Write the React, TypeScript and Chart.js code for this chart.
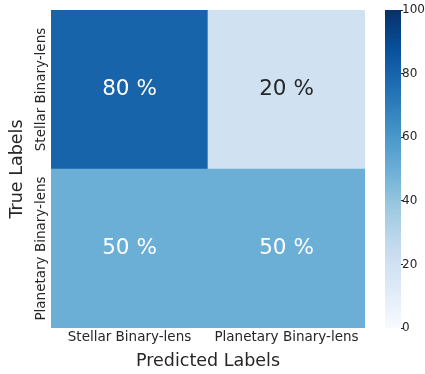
import React, { useEffect, useRef } from "react";
import { Chart, registerables } from "chart.js";

Chart.register(...registerables);

const predictedLabels = ["Stellar Binary-lens", "Planetary Binary-lens"];
const trueLabels = ["Stellar Binary-lens", "Planetary Binary-lens"];
const stellarRow = [80, 20];
const planetaryRow = [50, 50];
const colorbarTicks = [0, 20, 40, 60, 80, 100];
const colorbarRange = [0, 100];

const FONT = "'DejaVu Sans', 'Liberation Sans', sans-serif";
const TICK_SIZE = 13.5;
const TITLE_SIZE = 17.5;
const CELL_SIZE = 21.5;

const BLUES = [
  [247, 251, 255],
  [222, 235, 247],
  [198, 219, 239],
  [158, 202, 225],
  [107, 174, 214],
  [66, 146, 198],
  [33, 113, 181],
  [8, 81, 156],
  [8, 48, 107],
];

function blues(t: number): number[] {
  const c = Math.max(0, Math.min(1, t)) * (BLUES.length - 1);
  const i = Math.min(BLUES.length - 2, Math.floor(c));
  const f = c - i;
  return BLUES[i].map((v, k) => Math.round(v + (BLUES[i + 1][k] - v) * f));
}
function bluesCss(t: number) {
  const [r, g, b] = blues(t);
  return `rgb(${r},${g},${b})`;
}
function textColorFor(t: number) {
  const lin = blues(t).map((v) => {
    const s = v / 255;
    return s <= 0.03928 ? s / 12.92 : Math.pow((s + 0.055) / 1.055, 2.4);
  });
  const lum = 0.2126 * lin[0] + 0.7152 * lin[1] + 0.0722 * lin[2];
  return lum > 0.408 ? "#262626" : "#ffffff";
}

export default function App() {
  const mainRef = useRef<HTMLCanvasElement>(null);
  const cbRef = useRef<HTMLCanvasElement>(null);

  useEffect(() => {
    Chart.defaults.font.family = FONT;
    const meas = document.createElement("canvas").getContext("2d")!;
    meas.font = `${TICK_SIZE}px ${FONT}`;
    const widest = Math.max(...trueLabels.map((l) => meas.measureText(l).width));

    const rows = [
      { label: trueLabels[1], values: planetaryRow, span: [0, 1] },
      { label: trueLabels[0], values: stellarRow, span: [1, 2] },
    ];

    const cellText = {
      id: "cellText",
      afterDatasetsDraw(chart: any) {
        const ctx = chart.ctx;
        ctx.save();
        ctx.font = `${CELL_SIZE}px ${FONT}`;
        ctx.textAlign = "center";
        ctx.textBaseline = "middle";
        chart.data.datasets.forEach((ds: any, di: number) => {
          const meta = chart.getDatasetMeta(di);
          meta.data.forEach((el: any, i: number) => {
            const v = ds.pct[i];
            ctx.fillStyle = textColorFor(v / 100);
            ctx.fillText(`${v} %`, el.x, (el.y + el.base) / 2);
          });
        });
        ctx.restore();
      },
    };

    const main = new Chart(mainRef.current!, {
      type: "bar",
      data: {
        labels: predictedLabels,
        datasets: rows.map((r) => ({
          label: r.label,
          data: r.values.map(() => r.span),
          pct: r.values,
          backgroundColor: r.values.map((v) => bluesCss(v / 100)),
          borderWidth: 0,
          barPercentage: 1,
          categoryPercentage: 1,
          grouped: false,
        })) as any,
      },
      options: {
        animation: false,
        responsive: false,
        layout: { padding: { left: 0, top: 10, right: 5, bottom: 0 } },
        plugins: { legend: { display: false }, tooltip: { enabled: false } },
        scales: {
          x: {
            grid: { display: false, drawTicks: false },
            border: { display: false },
            ticks: { color: "#262626", font: { size: TICK_SIZE }, padding: 1 },
            title: {
              display: true,
              text: "Predicted Labels",
              color: "#262626",
              font: { size: TITLE_SIZE },
              padding: { top: 0, bottom: 2.5 },
            },
            afterFit: (s: any) => {
              s.height = 46;
            },
          },
          y: {
            min: 0,
            max: 2,
            grid: { display: false, drawTicks: false },
            border: { display: false },
            afterBuildTicks: (s: any) => {
              s.ticks = [{ value: 0.5 }, { value: 1.5 }];
            },
            ticks: {
              color: "#262626",
              font: { size: TICK_SIZE },
              minRotation: 90,
              maxRotation: 90,
              crossAlign: "center",
              padding: 10 - widest / 2,
              callback: (v: any) => (v > 1 ? trueLabels[0] : trueLabels[1]),
            },
            title: {
              display: true,
              text: "True Labels",
              color: "#262626",
              font: { size: TITLE_SIZE },
              padding: { top: 7, bottom: 0 },
            },
            afterFit: (s: any) => {
              s.width = 51;
            },
          },
        },
      },
      plugins: [cellText],
    });

    const cb = new Chart(cbRef.current!, {
      type: "bar",
      data: {
        labels: [""],
        datasets: [
          {
            data: [colorbarRange],
            backgroundColor: (c: any) => {
              const area = c.chart.chartArea;
              if (!area) return "#6baed6";
              const g = c.chart.ctx.createLinearGradient(0, area.bottom, 0, area.top);
              BLUES.forEach((_, i) => g.addColorStop(i / (BLUES.length - 1), bluesCss(i / (BLUES.length - 1))));
              return g;
            },
            borderWidth: 0,
            barPercentage: 1,
            categoryPercentage: 1,
          } as any,
        ],
      },
      options: {
        animation: false,
        responsive: false,
        layout: { padding: { left: 15, top: 10, right: 0, bottom: 46 } },
        plugins: { legend: { display: false }, tooltip: { enabled: false } },
        scales: {
          x: { display: false },
          y: {
            position: "right",
            min: colorbarRange[0],
            max: colorbarRange[1],
            afterBuildTicks: (s: any) => {
              s.ticks = colorbarTicks.map((v) => ({ value: v }));
            },
            grid: { drawOnChartArea: false, drawTicks: true, tickLength: 2, color: "#262626" },
            border: { display: false },
            ticks: { color: "#262626", font: { size: 12 }, padding: -1 },
            afterFit: (s: any) => {
              s.width = 24;
            },
          },
        },
      },
    });

    return () => {
      main.destroy();
      cb.destroy();
    };
  }, []);

  return (
    <div style={{ position: "fixed", left: 0, top: 0, width: 425, height: 374, background: "#fff" }}>
      <canvas
        ref={mainRef}
        width={370}
        height={374}
        style={{ position: "absolute", left: 0, top: 0, width: 370, height: 374 }}
      />
      <canvas
        ref={cbRef}
        width={55}
        height={374}
        style={{ position: "absolute", left: 370, top: 0, width: 55, height: 374 }}
      />
    </div>
  );
}
